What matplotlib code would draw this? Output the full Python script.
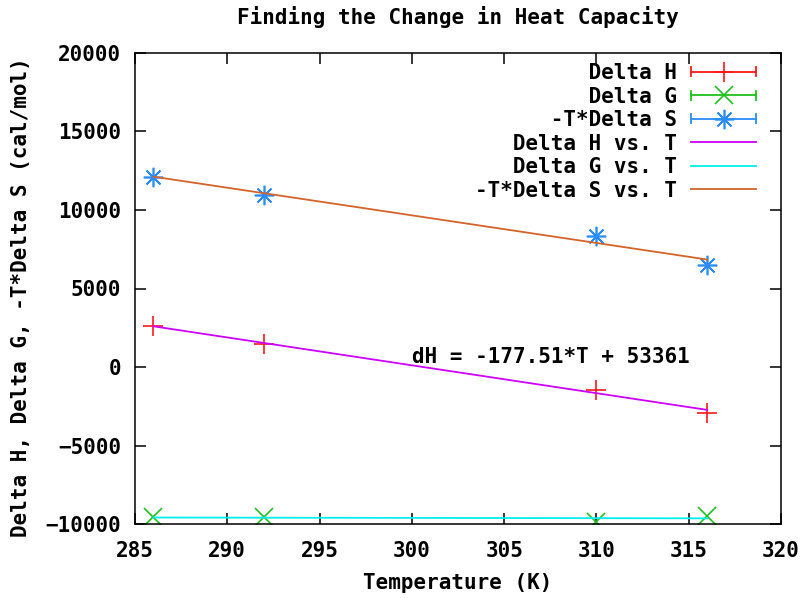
import numpy as np
import matplotlib
matplotlib.use('Agg')
import matplotlib.pyplot as plt
from matplotlib.lines import Line2D
from matplotlib.legend_handler import HandlerBase

FONT_SIZE = 15
plt.rc('font', family='DejaVu Sans Mono', weight='bold', size=FONT_SIZE)
plt.rc('axes', labelweight='bold')

# measured temperatures (K) and thermodynamic quantities (cal/mol)
temps = [286, 292, 310, 316]
delta_h = [2640, 1450, -1450, -2915]
delta_g = [-9573, -9560, -9850, -9470]
minus_t_delta_s = [12120, 10955, 8363, 6497]

# linear fit for Delta H
dh_slope = -177.51
dh_icept = 53361

labels = ['Delta H', 'Delta G', '-T*Delta S',
          'Delta H vs. T', 'Delta G vs. T', '-T*Delta S vs. T']
xticks = [285, 290, 295, 300, 305, 310, 315, 320]
yticks = [-10000, -5000, 0, 5000, 10000, 15000, 20000]

RED = '#ff1a1a'
GREEN = '#1fc01f'
BLUE = '#2a8cff'
MAGENTA = '#cc00ff'
CYAN = '#00eeee'
BROWN = '#d2642a'


class CapHandler(HandlerBase):
    # horizontal bar with end caps and the point symbol in the middle
    def create_artists(self, legend, orig, xdescent, ydescent, width, height,
                       fontsize, trans):
        y = height / 2 - ydescent
        x0, x1 = -xdescent, width - xdescent
        c = orig.get_color()
        h = 0.3 * height
        bar = Line2D([x0, x1], [y, y], color=c, lw=1.3)
        caps = Line2D([x0, x0, np.nan, x1, x1], [y - h, y + h, np.nan, y - h, y + h],
                      color=c, lw=1.3)
        mk = Line2D([(x0 + x1) / 2], [y], ls='none', marker=orig.get_marker(),
                    ms=orig.get_markersize(), mec=c, mew=orig.get_markeredgewidth())
        for a in (bar, caps, mk):
            a.set_transform(trans)
        return [bar, caps, mk]


T = np.array(temps, dtype=float)
h_fit = dh_slope * T + dh_icept
g_fit = np.polyval(np.polyfit(T, delta_g, 1), T)
s_fit = np.polyval(np.polyfit(T, minus_t_delta_s, 1), T)

fig = plt.figure(figsize=(8.07, 5.98), dpi=100)
ax = fig.add_axes([135 / 807, 74 / 598, 646 / 807, 471 / 598])

p1, = ax.plot(T, delta_h, ls='none', marker='+', ms=14, mew=1.2, color=RED)
p2, = ax.plot(T, delta_g, ls='none', marker='x', ms=13, mew=1.2, color=GREEN)
p3, = ax.plot(T, minus_t_delta_s, ls='none', marker=(8, 2, 0), ms=14, mew=1.2, color=BLUE)
l1, = ax.plot(T, h_fit, color=MAGENTA, lw=1.3)
l2, = ax.plot(T, g_fit, color=CYAN, lw=1.3)
l3, = ax.plot(T, s_fit, color=BROWN, lw=1.3)

ax.text(300, 650, 'dH = -177.51*T + 53361', ha='left', va='center')

ax.set_xlim(285, 320)
ax.set_ylim(-10000, 20000)
ax.set_xticks(xticks)
ax.set_yticks(yticks)
ax.tick_params(direction='in', length=8, width=1.1, top=True, right=True)
ax.tick_params(axis='x', pad=12)
ax.tick_params(axis='y', pad=10)
for sp in ax.spines.values():
    sp.set_linewidth(1.1)

ax.set_xlabel('Temperature (K)', va='center')
ax.xaxis.set_label_coords(0.5, -59 / 471)
ax.set_ylabel('Delta H, Delta G, -T*Delta S (cal/mol)', va='center')
ax.yaxis.set_label_coords(-114 / 646, 0.5 - 9 / 471)
fig.text(458 / 807, 1 - 17 / 598, 'Finding the Change in Heat Capacity',
         ha='center', va='center')

# right-justify the key labels (monospace font)
width = max(len(s) for s in labels)
handles = [p1, p2, p3, l1, l2, l3]
ax.legend(handles, [s.rjust(width) for s in labels],
          handler_map={p1: CapHandler(), p2: CapHandler(), p3: CapHandler()},
          loc='upper right', bbox_to_anchor=(1 - 25 / 646, 1 - 10 / 471),
          borderaxespad=0, borderpad=0, frameon=False, markerfirst=False,
          handlelength=3.1, handletextpad=0.7, labelspacing=0.17)

fig.savefig('out.png', dpi=100)
